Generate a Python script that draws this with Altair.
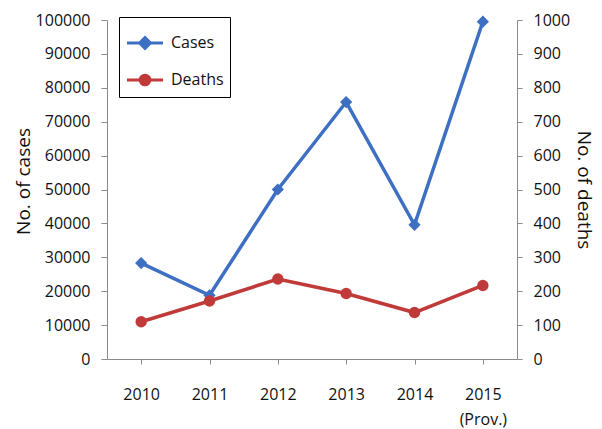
import altair as alt
import pandas as pd

years = ["2010", "2011", "2012", "2013", "2014", "2015"]
cases = [28300, 18800, 50000, 75800, 39600, 99500]
deaths = [110, 171, 236, 193, 137, 217]
series_names = ["Cases", "Deaths"]
series_colors = ["#3d6fc2", "#c03a3a"]
case_ticks = list(range(0, 100001, 10000))
death_ticks = list(range(0, 1001, 100))

df = pd.DataFrame({
    "year": years * 2,
    "series": [series_names[0]] * len(years) + [series_names[1]] * len(years),
    "value": cases + deaths,
})

FONT = "Open Sans"
TXT = "#111111"
AX = "#8a8a8a"

x_enc = alt.X(
    "year:O",
    scale=alt.Scale(type="point", padding=0.5),
    axis=alt.Axis(
        title=None, labelAngle=0, tickSize=5, labelPadding=22,
        labelExpr="datum.value == '2015' ? ['2015', '(Prov.)'] : datum.value",
        labelLineHeight=25, labelBaseline="top",
        domainColor=AX, tickColor=AX, labelColor=TXT,
        labelFont=FONT, labelFontSize=16,
    ),
)

color_pick = f"datum.value === 'Cases' ? '{series_colors[0]}' : '{series_colors[1]}'"
legend = alt.Legend(
    title=None, orient="none", legendX=12, legendY=-3,
    strokeColor="#000000", fillColor="white", padding=6,
    labelFont=FONT, labelFontSize=16, labelColor=TXT, labelOffset=6,
    symbolSize=1300, rowPadding=5, symbolStrokeWidth=3,
    symbolFillColor=alt.ExprRef(expr=color_pick),
    symbolType=alt.ExprRef(expr="datum.value === 'Cases' ? 'M-1,0H1M0,-0.3L0.3,0L0,0.3L-0.3,0Z' : 'M-1,0H1M0.27,0A0.27,0.27 0 1 1 -0.27,0A0.27,0.27 0 1 1 0.27,0Z'"),
)

color_enc = alt.Color("series:N", scale=alt.Scale(domain=series_names, range=series_colors), legend=legend)

base = alt.Chart(df)

y_cases = alt.Y(
    "value:Q", scale=alt.Scale(domain=[0, 100000], nice=False),
    axis=alt.Axis(
        title="No. of cases", values=case_ticks, format="d", grid=False,
        tickSize=6, labelPadding=11, titlePadding=2, titleY=161,
        domainColor=AX, tickColor=AX, labelColor=TXT, titleColor=TXT,
        labelFont=FONT, labelFontSize=16, titleFont=FONT, titleFontSize=19,
        titleFontWeight="normal",
    ),
)
y_deaths = alt.Y(
    "value:Q", scale=alt.Scale(domain=[0, 1000], nice=False),
    axis=alt.Axis(
        title="No. of deaths", orient="right", values=death_ticks, format="d", grid=False,
        tickSize=5, labelPadding=11, titlePadding=4, titleAngle=90,
        domainColor=AX, tickColor=AX, labelColor=TXT, titleColor=TXT,
        labelFont=FONT, labelFontSize=16, titleFont=FONT, titleFontSize=19,
        titleFontWeight="normal",
    ),
)

cases_df = base.transform_filter(alt.datum.series == "Cases")
deaths_df = base.transform_filter(alt.datum.series == "Deaths")

cases_line = cases_df.mark_line(strokeWidth=3.5).encode(x=x_enc, y=y_cases, color=color_enc)
cases_pts = cases_df.mark_point(
    filled=True, size=150, opacity=1, shape="diamond", color=series_colors[0]
).encode(x=x_enc, y=y_cases)

deaths_line = deaths_df.mark_line(strokeWidth=3.5).encode(x=x_enc, y=y_deaths, color=color_enc)
deaths_pts = deaths_df.mark_point(
    filled=True, size=130, opacity=1, shape="circle", color=series_colors[1]
).encode(x=x_enc, y=y_deaths)

left = alt.layer(cases_line, cases_pts)
right = alt.layer(deaths_line, deaths_pts)

chart = alt.layer(left, right).resolve_scale(y="independent").properties(
    width=410, height=339,
    autosize=alt.AutoSizeParams(type="none"),
    padding={"left": 107, "top": 20, "right": 85, "bottom": 70},
    background="white",
).configure_view(stroke=None)

chart.save("out.html", embed_options={"renderer": "svg", "actions": False})
